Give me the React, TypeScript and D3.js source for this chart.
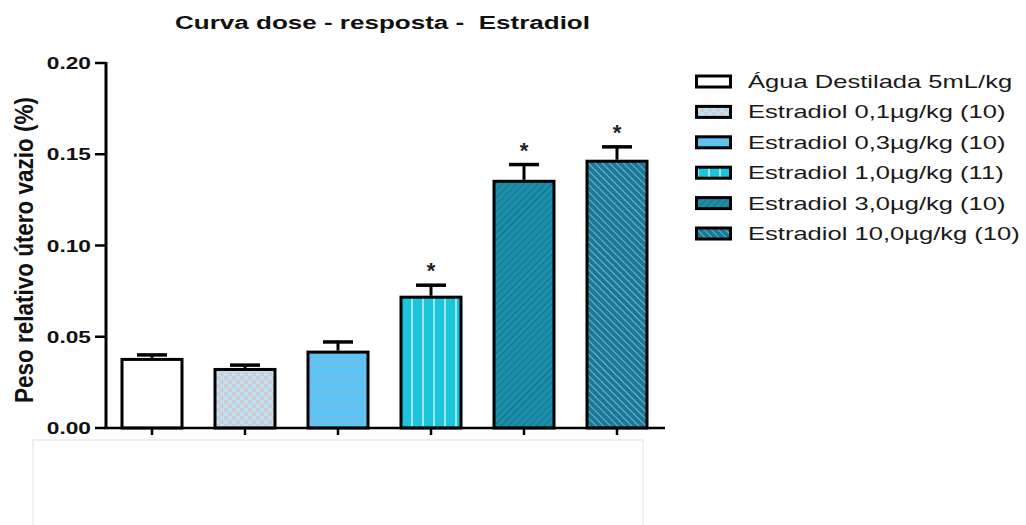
import React from "react";
import * as d3 from "d3";

const categories = [
  "Água Destilada 5mL/kg",
  "Estradiol 0,1µg/kg (10)",
  "Estradiol 0,3µg/kg (10)",
  "Estradiol 1,0µg/kg (11)",
  "Estradiol 3,0µg/kg (10)",
  "Estradiol 10,0µg/kg (10)",
];
const means = [0.0384, 0.0329, 0.0424, 0.0725, 0.136, 0.147];
const sems = [0.0022, 0.0021, 0.0053, 0.0063, 0.0089, 0.0076];
const significant = [false, false, false, true, true, true];
const yTicks = [0, 0.05, 0.1, 0.15, 0.2];
const fills = ["#ffffff", "url(#p2)", "url(#p3)", "url(#p4)", "url(#p5)", "url(#p6)"];

const FONT = "'Liberation Sans', Arial, sans-serif";
const SX = 1.42;

export default function App() {
  const y = d3.scaleLinear().domain([0, 0.2]).range([428, 63]);
  const x = d3
    .scaleBand<string>()
    .domain(categories)
    .range([105.5, 663.5])
    .paddingInner(0.3226)
    .paddingOuter(0.1613);
  const bw = x.bandwidth();

  return (
    <svg
      width={1026}
      height={525}
      style={{ position: "absolute", left: 0, top: 0, background: "#fff" }}
    >
      <defs>
        <pattern id="p2" patternUnits="userSpaceOnUse" width={8} height={8}>
          <rect width={8} height={8} fill="#bfe1f7" />
          <rect x={0} y={0} width={4} height={4} fill="#cfcdd2" />
          <rect x={4} y={4} width={4} height={4} fill="#cfcdd2" />
        </pattern>
        <pattern id="p3" patternUnits="userSpaceOnUse" width={8} height={7}>
          <rect width={8} height={7} fill="#5cc3f6" />
          <line x1={0} x2={8} y1={3.5} y2={3.5} stroke="#86b8d4" strokeWidth={1} />
        </pattern>
        <pattern id="p4" patternUnits="userSpaceOnUse" width={11} height={8}>
          <rect width={11} height={8} fill="#1cc5dc" />
          <line x1={5} x2={5} y1={0} y2={8} stroke="#a6ecf4" strokeWidth={1.8} />
        </pattern>
        <pattern
          id="p5"
          patternUnits="userSpaceOnUse"
          width={5}
          height={5}
          patternTransform="rotate(45)"
        >
          <rect width={5} height={5} fill="#1c8ea9" />
          <line x1={0} x2={0} y1={0} y2={5} stroke="#14728a" strokeWidth={2} />
        </pattern>
        <pattern
          id="p6"
          patternUnits="userSpaceOnUse"
          width={5}
          height={5}
          patternTransform="rotate(-45)"
        >
          <rect width={5} height={5} fill="#1d7895" />
          <line x1={0} x2={0} y1={0} y2={5} stroke="#74c1d8" strokeWidth={1.8} />
        </pattern>
      </defs>

      {/* bottom faint box */}
      <rect x={33} y={440} width={610} height={100} fill="#fff" stroke="#ececec" strokeWidth={1.5} />

      {/* title */}
      <text
        x={175}
        y={29}
        fontFamily={FONT}
        fontWeight="bold"
        fontSize={18}
        textLength={415}
        lengthAdjust="spacingAndGlyphs"
        fill="#111"
        style={{ whiteSpace: "pre" }}
      >
        {"Curva dose - resposta -  Estradiol"}
      </text>

      {/* y axis title */}
      <text
        transform={`translate(33,250) scale(1.2,1) rotate(-90)`}
        textAnchor="middle"
        fontFamily={FONT}
        fontWeight="bold"
        fontSize={22}
        textLength={306}
        lengthAdjust="spacingAndGlyphs"
        fill="#111"
      >
        Peso relativo útero vazio (%)
      </text>

      {/* bars */}
      {categories.map((c, i) => {
        const x0 = x(c)!;
        const top = y(means[i]);
        return (
          <rect
            key={c}
            x={x0 + 1.5}
            y={top + 1.5}
            width={bw - 3}
            height={y(0) - top - 1.5}
            fill={fills[i]}
            stroke="#000"
            strokeWidth={3}
          />
        );
      })}

      {/* error bars */}
      {categories.map((c, i) => {
        const cx = x(c)! + bw / 2;
        const top = y(means[i]);
        const cap = y(means[i] + sems[i]);
        return (
          <g key={c} stroke="#000">
            <line x1={cx} x2={cx} y1={top} y2={cap} strokeWidth={3} />
            <line x1={cx - 15} x2={cx + 15} y1={cap + 1} y2={cap + 1} strokeWidth={3.5} />
          </g>
        );
      })}

      {/* stars */}
      {categories.map((c, i) =>
        significant[i] ? (
          <text
            key={c}
            x={x(c)! + bw / 2}
            y={y(means[i] + sems[i]) - 6}
            textAnchor="middle"
            fontFamily={FONT}
            fontWeight="bold"
            fontSize={22}
            fill="#222"
          >
            *
          </text>
        ) : null
      )}

      {/* axes */}
      <line x1={106} x2={106} y1={y(0.2) - 1} y2={y(0) + 1} stroke="#000" strokeWidth={3} />
      <line x1={104.5} x2={665} y1={y(0)} y2={y(0)} stroke="#000" strokeWidth={2.5} />
      {yTicks.map((t) => (
        <g key={t}>
          <line x1={95} x2={106} y1={y(t)} y2={y(t)} stroke="#000" strokeWidth={2.5} />
          <text
            transform={`translate(91,${y(t) + 6}) scale(${SX},1)`}
            textAnchor="end"
            fontFamily={FONT}
            fontWeight="bold"
            fontSize={16}
            fill="#111"
          >
            {d3.format(".2f")(t)}
          </text>
        </g>
      ))}
      {categories.map((c) => (
        <line
          key={c}
          x1={x(c)! + bw / 2}
          x2={x(c)! + bw / 2}
          y1={y(0)}
          y2={y(0) + 7}
          stroke="#000"
          strokeWidth={2.5}
        />
      ))}

      {/* legend */}
      {categories.map((c, i) => {
        const cy = 81.5 + i * 30.4;
        return (
          <g key={c}>
            <rect
              x={696.5}
              y={cy - 5.5}
              width={34}
              height={11}
              fill={fills[i]}
              stroke="#000"
              strokeWidth={3}
            />
            <text
              transform={`translate(748,${cy + 6.5}) scale(${SX},1)`}
              fontFamily={FONT}
              fontSize={18}
              fill="#1a1a1a"
            >
              {c}
            </text>
          </g>
        );
      })}
    </svg>
  );
}
